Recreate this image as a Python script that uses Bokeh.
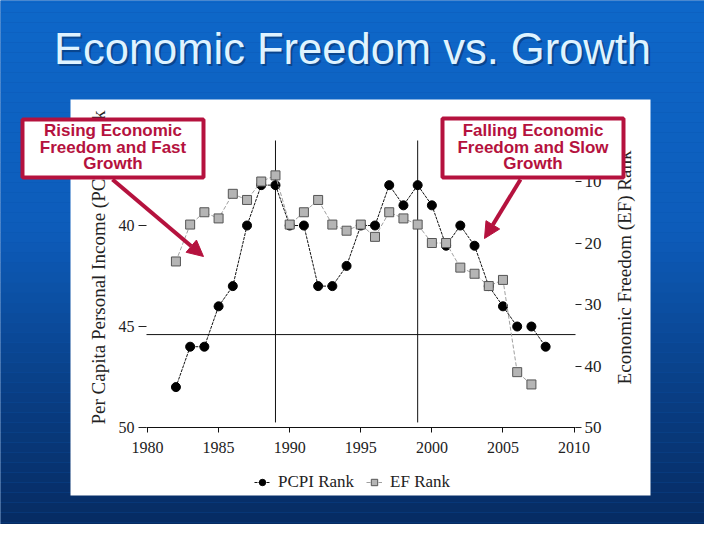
import numpy as np
from bokeh.plotting import figure
from bokeh.models import (Range1d, LinearAxis, FixedTicker, BoxAnnotation, Label,
                          Arrow, NormalHead, Legend, LegendItem)
from bokeh.embed import file_html
from bokeh.resources import INLINE

# ---------------- data ----------------
pcpi_years = list(range(1982, 2009))
pcpi_rank = [48, 46, 46, 44, 43, 40, 38, 38, 40, 40, 43, 43, 42, 40, 40, 38, 39, 38,
             39, 41, 40, 41, 43, 44, 45, 45, 46]
pcpi_runs = [(1982, 2006), (2007, 2008)]   # line is broken between 2006 and 2007

ef_years = list(range(1982, 2008))
ef_rank = [23, 17, 15, 16, 12, 13, 10, 9, 17, 15, 13, 17, 18, 17, 19, 15, 16, 17,
           20, 20, 24, 25, 27, 26, 41, 43]

x_ticks = [1980, 1985, 1990, 1995, 2000, 2005, 2010]
left_ticks = [40, 45, 50]
right_ticks = [10, 20, 30, 40, 50]
divide_years = [1989, 1999]
pcpi_ref_level = 45.4

title_text = "Economic Freedom vs. Growth"
left_title = "Per Capita Personal Income (PCPI) Rank"
right_title = "Economic Freedom (EF) Rank"
callout_1 = ["Rising Economic", "Freedom and Fast", "Growth"]
callout_2 = ["Falling Economic", "Freedom and Slow", "Growth"]

# ---------------- geometry (slide pixels) ----------------
W, H = 704, 524
OFF = 8
CX0, CX1, CY0, CY1 = OFF, OFF + W, OFF, OFF + H       # canvas in slide pixels
X0, X1, YT, YB = 154, 583, 148, 435                    # plot area in slide pixels
YEAR0, YEAR1 = 1979.93, 2010.1
LEFT_TOP, LEFT_BOT = 35.79, 50.0
RIGHT_TOP, RIGHT_BOT = 3.33, 50.0


def lin(v0, v1, p0, p1, q):
    return v0 + (q - p0) * (v1 - v0) / (p1 - p0)


x_range = Range1d(lin(YEAR0, YEAR1, X0, X1, CX0), lin(YEAR0, YEAR1, X0, X1, CX1))
y_range = Range1d(lin(LEFT_BOT, LEFT_TOP, YB, YT, CY1), lin(LEFT_BOT, LEFT_TOP, YB, YT, CY0))
ef_range = Range1d(lin(RIGHT_BOT, RIGHT_TOP, YB, YT, CY1), lin(RIGHT_BOT, RIGHT_TOP, YB, YT, CY0))

p = figure(width=W, height=H, output_backend="svg", toolbar_location=None,
           x_range=x_range, y_range=y_range, min_border=0,
           x_axis_type=None, y_axis_type=None)
p.extra_y_ranges = {"ef": ef_range, "py": Range1d(CY1, CY0)}
p.extra_x_ranges = {"px": Range1d(CX0, CX1)}
p.xgrid.visible = False
p.ygrid.visible = False
p.outline_line_color = None
p.background_fill_color = "#0b55ad"
p.border_fill_color = "#0b55ad"

PX = dict(x_range_name="px", y_range_name="py")

# background gradient bands
stops = [(0, (14, 104, 202)), (240, (13, 92, 186)), (400, (9, 62, 132)), (540, (6, 42, 96))]


def bg(y):
    for (y0, c0), (y1, c1) in zip(stops[:-1], stops[1:]):
        if y0 <= y <= y1:
            t = (y - y0) / (y1 - y0)
            return "#%02x%02x%02x" % tuple(int(round(a + (b - a) * t)) for a, b in zip(c0, c1))
    return "#%02x%02x%02x" % stops[-1][1]


for y in range(0, 540, 10):
    p.add_layout(BoxAnnotation(left=0, right=720, top=y, bottom=y + 10, fill_color=bg(y + 5),
                               fill_alpha=1, line_color=None, level="underlay", **PX))

# white chart panel
p.add_layout(BoxAnnotation(left=78, right=658, top=107, bottom=503, fill_color="white",
                           fill_alpha=1, line_color=None, level="underlay", **PX))

# title with shadow
p.add_layout(Label(x=362, y=58, text=title_text, text_align="center", text_baseline="middle",
                   text_font="Liberation Sans", text_font_size="43.5px", text_color="#062c60",
                   text_alpha=0.55, **PX))
p.add_layout(Label(x=360, y=56, text=title_text, text_align="center", text_baseline="middle",
                   text_font="Liberation Sans", text_font_size="43.5px", text_color="#dff3ff", **PX))

# ---------------- axes (fixed at the plot-area edges) ----------------
serif = "Liberation Serif"
ink = "#222"

xa = LinearAxis(ticker=FixedTicker(ticks=x_ticks), fixed_location=LEFT_BOT,
                bounds=(YEAR0, YEAR1))
xa.axis_line_color = "#111"
xa.major_tick_out = 5
xa.major_tick_in = 0
xa.major_tick_line_color = "#111"
xa.minor_tick_line_color = None
xa.major_label_text_font = serif
xa.major_label_text_font_size = "16px"
xa.major_label_text_color = ink
xa.major_label_standoff = 9
p.add_layout(xa, "below")

ya = LinearAxis(ticker=FixedTicker(ticks=left_ticks), fixed_location=YEAR0,
                bounds=(LEFT_TOP, LEFT_BOT))
ya.axis_line_color = None
ya.major_tick_out = 8
ya.major_tick_in = 0
ya.major_tick_line_color = ink
ya.minor_tick_line_color = None
ya.major_label_text_font = serif
ya.major_label_text_font_size = "16px"
ya.major_label_text_color = ink
ya.major_label_standoff = 4
p.add_layout(ya, "left")

ra = LinearAxis(y_range_name="ef", ticker=FixedTicker(ticks=right_ticks), fixed_location=YEAR1,
                bounds=(RIGHT_TOP, RIGHT_BOT))
ra.axis_line_color = None
ra.major_tick_out = 6
ra.major_tick_in = 0
ra.major_tick_line_color = ink
ra.minor_tick_line_color = None
ra.major_label_text_font = serif
ra.major_label_text_font_size = "17px"
ra.major_label_text_color = ink
ra.major_label_standoff = 3
p.add_layout(ra, "right")

p.add_layout(Label(x=106, y=275, text=left_title, angle=np.pi / 2,
                   text_align="center", text_baseline="middle", text_font=serif,
                   text_font_size="19px", text_color=ink, **PX))
p.add_layout(Label(x=632, y=275, text=right_title, angle=np.pi / 2,
                   text_align="center", text_baseline="middle", text_font=serif,
                   text_font_size="19px", text_color=ink, **PX))

# reference lines
p.segment(x0=divide_years, x1=divide_years, y0=[LEFT_TOP] * 2, y1=[49.75] * 2,
          line_color="#111", line_width=1)
p.segment(x0=[YEAR0], x1=[YEAR1], y0=[pcpi_ref_level], y1=[pcpi_ref_level],
          line_color="#111", line_width=1)

# ---------------- series ----------------
pc_lines = []
for a, b in pcpi_runs:
    xs = [x for x in pcpi_years if a <= x <= b]
    ys = [r for x, r in zip(pcpi_years, pcpi_rank) if a <= x <= b]
    pc_lines.append(p.line(xs, ys, line_color="#111", line_width=1, line_dash="3 1"))
pc_pts = p.scatter(pcpi_years, pcpi_rank, marker="circle", size=9, fill_color="black",
                   line_color="black")

ef_line = p.line(ef_years, ef_rank, y_range_name="ef", line_color="#a0a0a0", line_width=1,
                 line_dash="4 2")
ef_pts = p.scatter(ef_years, ef_rank, y_range_name="ef", marker="square", size=9,
                   fill_color="#b5b5b5", line_color="#555", line_width=1)

legend = Legend(items=[LegendItem(label="PCPI Rank", renderers=[pc_lines[0], pc_pts]),
                       LegendItem(label="EF Rank", renderers=[ef_line, ef_pts])],
                orientation="horizontal", location=(262 - CX0, CY1 - 500),
                label_text_font=serif, label_text_font_size="17px", label_text_color=ink,
                glyph_width=16, glyph_height=16, label_standoff=8, spacing=12,
                background_fill_alpha=0, border_line_color=None, padding=2, margin=0)
p.add_layout(legend)

# ---------------- callouts ----------------
crimson = "#b5123e"
for (l, r, t, b, cx, lines) in [(30, 211, 127, 185, 120.5, callout_1),
                                (450, 631, 126, 185, 540.5, callout_2)]:
    p.add_layout(BoxAnnotation(left=l, right=r, top=t, bottom=b, fill_color="white", fill_alpha=1,
                               line_color=crimson, line_width=4, line_alpha=1, **PX))
    for i, s in enumerate(lines):
        p.add_layout(Label(x=cx, y=138 + 16.5 * i, text=s, text_align="center",
                           text_baseline="middle", text_font="Liberation Sans",
                           text_font_style="bold", text_font_size="17px", text_color=crimson, **PX))

for (xs, ys, xe, ye) in [(120, 187, 211, 264), (528, 187, 492, 246)]:
    p.add_layout(Arrow(x_start=xs, y_start=ys, x_end=xe, y_end=ye, line_color=crimson,
                       line_width=4, end=NormalHead(size=16, fill_color=crimson,
                                                    line_color=crimson), **PX))

open("out.html", "w").write(file_html(p, INLINE))
